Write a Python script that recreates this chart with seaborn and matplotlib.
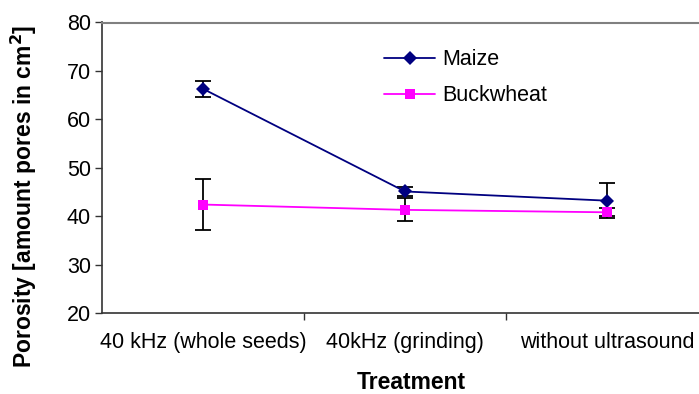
import numpy as np
import pandas as pd
import matplotlib
matplotlib.use("Agg")
import matplotlib.pyplot as plt
import seaborn as sns

# values
treatments = ["40 kHz (whole seeds)", "40kHz (grinding)", "without ultrasound"]
maize = [66.3, 45.1, 43.2]
maize_err = [1.6, 1.0, 3.6]
buckwheat = [42.4, 41.3, 40.8]
buckwheat_err = [5.3, 2.4, 0.8]

sns.set_style("white", {"text.color": "black", "axes.labelcolor": "black",
                        "xtick.color": "black", "ytick.color": "black"})
plt.rcParams["font.family"] = ["Liberation Sans", "DejaVu Sans"]

df = pd.DataFrame({
    "Treatment": treatments * 2,
    "x": list(range(len(treatments))) * 2,
    "Porosity": maize + buckwheat,
    "err": maize_err + buckwheat_err,
    "Crop": ["Maize"] * 3 + ["Buckwheat"] * 3,
})

colors = {"Maize": "#000080", "Buckwheat": "#FF00FF"}
markers = {"Maize": "D", "Buckwheat": "s"}

fig = plt.figure(figsize=(6.99, 3.94), dpi=100)
ax = fig.add_axes([102 / 699, 81 / 394, 606 / 699, 290.5 / 394])

# error bars first, so the lines and markers sit on top
for crop in ["Buckwheat", "Maize"]:
    d = df[df["Crop"] == crop]
    ax.errorbar(d["x"], d["Porosity"], yerr=d["err"], fmt="none",
                ecolor="black", elinewidth=1.3, capsize=5.5, capthick=1.3,
                zorder=2)

sns.lineplot(data=df, x="x", y="Porosity", hue="Crop", style="Crop",
             palette=colors, markers=markers, dashes=False,
             hue_order=["Maize", "Buckwheat"], style_order=["Maize", "Buckwheat"],
             markersize=7.5, markeredgewidth=0, linewidth=1.3, ax=ax, zorder=3)

ax.set_xlim(-0.5, 2.5)
ax.set_ylim(20, 80)
ax.set_yticks(np.arange(20, 81, 10))
ax.set_xticks(range(len(treatments)))
ax.set_xticklabels(treatments)
ax.set_xticks([0.5, 1.5], minor=True)
ax.tick_params(axis="x", which="major", length=0, pad=14, labelsize=15.5,
               labelcolor="black")
ax.tick_params(axis="x", which="minor", length=5, width=1, color="#333333",
               direction="out", bottom=True)
ax.tick_params(axis="y", length=5, width=1, color="#333333", direction="out",
               left=True, labelsize=15.5, pad=3, labelcolor="black")

for side in ["left", "bottom"]:
    ax.spines[side].set_color("#333333")
    ax.spines[side].set_linewidth(1.2)
ax.spines["top"].set_color("#808080")
ax.spines["top"].set_linewidth(1.5)
ax.spines["right"].set_color("#808080")

ax.set_xlabel("Treatment", fontsize=16.5, fontweight="bold", color="black")
ax.xaxis.set_label_coords(0.51, -0.198)
ax.set_ylabel("Porosity [amount pores in cm$^\\mathbf{2}$]", fontsize=16.5,
              fontweight="bold", color="black")
ax.yaxis.set_label_coords(-0.104, 0.403)

handles, labels = ax.get_legend_handles_labels()
leg = ax.legend(handles, labels, loc="upper left",
                bbox_to_anchor=(365 / 699, 1 - 30 / 394),
                bbox_transform=fig.transFigure, frameon=False, fontsize=15.5,
                handlelength=2.37, handletextpad=0.33, labelspacing=0.7)
for t in leg.get_texts():
    t.set_color("black")

fig.savefig("out.png", dpi=100)
